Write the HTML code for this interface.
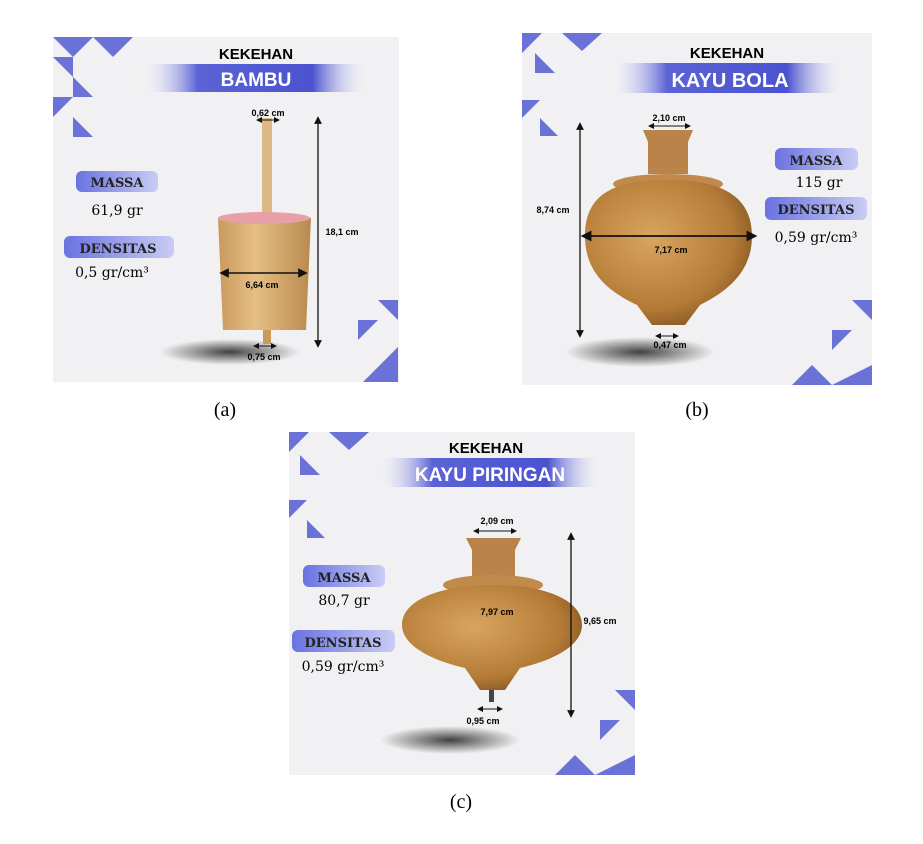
<!DOCTYPE html>
<html><head><meta charset="utf-8"><style>
html,body{margin:0;padding:0;background:#fff;width:923px;height:844px;overflow:hidden}
svg{position:absolute;left:0;top:0}
.t{font-family:"Liberation Sans",sans-serif;font-weight:bold}
.s{font-family:"DejaVu Serif","Liberation Serif",serif}
.cap{font-family:"Liberation Serif",serif;font-size:20px}
</style></head><body>
<svg width="923" height="844" viewBox="0 0 923 844">
<defs>
<linearGradient id="bn" x1="0" x2="1"><stop offset="0" stop-color="#fff" stop-opacity="0"/><stop offset=".25" stop-color="#5b63d6"/><stop offset=".75" stop-color="#4a52cf"/><stop offset="1" stop-color="#fff" stop-opacity="0"/></linearGradient>
<linearGradient id="pl" x1="0" x2="1"><stop offset="0" stop-color="#6a72e0"/><stop offset="1" stop-color="#c9ccf4"/></linearGradient>
<radialGradient id="wd" cx=".4" cy=".4" r=".7"><stop offset="0" stop-color="#d9a55e"/><stop offset=".7" stop-color="#b37a36"/><stop offset="1" stop-color="#7a4d1d"/></radialGradient>
<linearGradient id="bm" x1="0" x2="1"><stop offset="0" stop-color="#c99a5a"/><stop offset=".4" stop-color="#e6bf86"/><stop offset="1" stop-color="#b98a4e"/></linearGradient>
<radialGradient id="sh"><stop offset="0" stop-color="#222" stop-opacity=".85"/><stop offset="1" stop-color="#222" stop-opacity="0"/></radialGradient>
<marker id="a" markerWidth="6" markerHeight="6" refX="3" refY="3" orient="auto-start-reverse"><path d="M0,0L6,3L0,6z" fill="#111"/></marker>
</defs>

<!-- Panel A -->
<rect x="53" y="37" width="346" height="345" fill="#f1f1f3"/>
<path d="M53 37h40l-20 20zM93 37h40l-20 20zM53 57l20 20v-20zM73 77l20 20h-20zM53 97h20l-20 20zM73 117l20 20h-20z" fill="#4a52cf" opacity=".8"/>
<path d="M363 382h35v-35zM378 300l20 20v-20zM358 320h20l-20 20z" fill="#4a52cf" opacity=".8"/>
<text x="256" y="59" class="t" font-size="15" text-anchor="middle">KEKEHAN</text>
<rect x="140" y="64" width="230" height="28" fill="url(#bn)"/>
<text x="256" y="86" class="t" font-size="19" fill="#fff" text-anchor="middle">BAMBU</text>
<rect x="76" y="171" width="82" height="21" rx="6" fill="url(#pl)"/>
<text x="117" y="187" class="s" font-size="13" font-weight="bold" fill="#222" text-anchor="middle">MASSA</text>
<text x="117" y="215" class="s" font-size="14" text-anchor="middle">61,9 gr</text>
<rect x="64" y="236" width="110" height="22" rx="6" fill="url(#pl)"/>
<text x="118" y="253" class="s" font-size="13" font-weight="bold" fill="#222" text-anchor="middle">DENSITAS</text>
<text x="112" y="277" class="s" font-size="14" text-anchor="middle">0,5 gr/cm³</text>
<ellipse cx="230" cy="352" rx="70" ry="13" fill="url(#sh)"/>
<rect x="262" y="118" width="10" height="100" fill="#dcb887"/>
<rect x="263" y="330" width="8" height="14" fill="#c99a5a"/>
<path d="M218 218 L311 218 L306 330 L223 330 Z" fill="url(#bm)"/>
<ellipse cx="264" cy="218" rx="46" ry="6" fill="#e8a0a8"/>
<line x1="318" y1="120" x2="318" y2="344" stroke="#111" stroke-width="1.3" marker-start="url(#a)" marker-end="url(#a)"/>
<line x1="224" y1="273" x2="303" y2="273" stroke="#111" stroke-width="1.6" marker-start="url(#a)" marker-end="url(#a)"/>
<line x1="259" y1="120" x2="277" y2="120" stroke="#111" stroke-width="1" marker-start="url(#a)" marker-end="url(#a)"/>
<line x1="256" y1="346" x2="274" y2="346" stroke="#111" stroke-width="1" marker-start="url(#a)" marker-end="url(#a)"/>
<text x="268" y="116" class="t" font-size="9" text-anchor="middle">0,62 cm</text>
<text x="262" y="288" class="t" font-size="9" text-anchor="middle">6,64 cm</text>
<text x="342" y="235" class="t" font-size="9" text-anchor="middle">18,1 cm</text>
<text x="264" y="360" class="t" font-size="9" text-anchor="middle">0,75 cm</text>

<!-- Panel B -->
<rect x="522" y="33" width="350" height="352" fill="#f1f1f3"/>
<path d="M522 33h20l-20 20zM562 33h40l-20 18zM535 53l20 20h-20zM522 100h18l-18 18zM540 118l18 18h-18z" fill="#4a52cf" opacity=".8"/>
<path d="M792 385h40l-20-20zM832 385h40v-20zM852 300l20 20v-20zM832 330h20l-20 20z" fill="#4a52cf" opacity=".8"/>
<text x="727" y="58" class="t" font-size="15" text-anchor="middle">KEKEHAN</text>
<rect x="607" y="63" width="240" height="30" fill="url(#bn)"/>
<text x="730" y="87" class="t" font-size="20" fill="#fff" text-anchor="middle">KAYU BOLA</text>
<rect x="775" y="148" width="83" height="22" rx="6" fill="url(#pl)"/>
<text x="816" y="165" class="s" font-size="13" font-weight="bold" fill="#222" text-anchor="middle">MASSA</text>
<text x="819" y="187" class="s" font-size="14" text-anchor="middle">115 gr</text>
<rect x="765" y="197" width="102" height="23" rx="6" fill="url(#pl)"/>
<text x="816" y="214" class="s" font-size="13" font-weight="bold" fill="#222" text-anchor="middle">DENSITAS</text>
<text x="816" y="242" class="s" font-size="14" text-anchor="middle">0,59 gr/cm³</text>
<ellipse cx="640" cy="352" rx="75" ry="15" fill="url(#sh)"/>
<path d="M643 130h50l-5 12v32h-40v-32z" fill="#b9834a"/>
<ellipse cx="668" cy="184" rx="55" ry="10" fill="#c08a4c"/>
<path d="M585 236 C585 190 620 180 668 180 C720 180 752 195 752 236 C752 270 730 290 700 305 L685 325 L652 325 L637 305 C605 290 585 270 585 236Z" fill="url(#wd)"/>
<line x1="580" y1="126" x2="580" y2="334" stroke="#111" stroke-width="1.3" marker-start="url(#a)" marker-end="url(#a)"/>
<line x1="586" y1="236" x2="752" y2="236" stroke="#111" stroke-width="1.8" marker-start="url(#a)" marker-end="url(#a)"/>
<line x1="651" y1="126" x2="688" y2="126" stroke="#111" stroke-width="1" marker-start="url(#a)" marker-end="url(#a)"/>
<line x1="658" y1="336" x2="676" y2="336" stroke="#111" stroke-width="1" marker-start="url(#a)" marker-end="url(#a)"/>
<text x="669" y="121" class="t" font-size="9" text-anchor="middle">2,10 cm</text>
<text x="553" y="213" class="t" font-size="9" text-anchor="middle">8,74 cm</text>
<text x="671" y="253" class="t" font-size="9" text-anchor="middle">7,17 cm</text>
<text x="670" y="348" class="t" font-size="9" text-anchor="middle">0,47 cm</text>

<!-- Panel C -->
<rect x="289" y="432" width="346" height="343" fill="#f1f1f3"/>
<path d="M289 432h20l-20 20zM329 432h40l-20 18zM300 455l20 20h-20zM289 500h18l-18 18zM307 520l18 18h-18z" fill="#4a52cf" opacity=".8"/>
<path d="M555 775h40l-20-20zM595 775h40v-20zM615 690l20 20v-20zM600 720h20l-20 20z" fill="#4a52cf" opacity=".8"/>
<text x="486" y="453" class="t" font-size="15" text-anchor="middle">KEKEHAN</text>
<rect x="375" y="458" width="230" height="29" fill="url(#bn)"/>
<text x="490" y="481" class="t" font-size="19" fill="#fff" text-anchor="middle">KAYU PIRINGAN</text>
<rect x="303" y="565" width="82" height="22" rx="6" fill="url(#pl)"/>
<text x="344" y="582" class="s" font-size="13" font-weight="bold" fill="#222" text-anchor="middle">MASSA</text>
<text x="344" y="605" class="s" font-size="14" text-anchor="middle">80,7 gr</text>
<rect x="292" y="630" width="103" height="22" rx="6" fill="url(#pl)"/>
<text x="343" y="647" class="s" font-size="13" font-weight="bold" fill="#222" text-anchor="middle">DENSITAS</text>
<text x="343" y="671" class="s" font-size="14" text-anchor="middle">0,59 gr/cm³</text>
<ellipse cx="450" cy="740" rx="70" ry="14" fill="url(#sh)"/>
<path d="M466 538h55l-6 12v28h-43v-28z" fill="#b9834a"/>
<ellipse cx="493" cy="585" rx="50" ry="10" fill="#c08a4c"/>
<path d="M402 625 C402 600 440 585 493 585 C545 585 582 600 582 625 C582 645 555 660 520 668 L505 690 L480 690 L465 668 C430 660 402 645 402 625Z" fill="url(#wd)"/>
<rect x="489" y="690" width="5" height="12" fill="#444"/>
<line x1="571" y1="536" x2="571" y2="714" stroke="#111" stroke-width="1.3" marker-start="url(#a)" marker-end="url(#a)"/>
<line x1="476" y1="531" x2="514" y2="531" stroke="#111" stroke-width="1" marker-start="url(#a)" marker-end="url(#a)"/>
<line x1="480" y1="709" x2="500" y2="709" stroke="#111" stroke-width="1" marker-start="url(#a)" marker-end="url(#a)"/>
<text x="497" y="524" class="t" font-size="9" text-anchor="middle">2,09 cm</text>
<text x="497" y="615" class="t" font-size="9" text-anchor="middle">7,97 cm</text>
<text x="600" y="624" class="t" font-size="9" text-anchor="middle">9,65 cm</text>
<text x="483" y="724" class="t" font-size="9" text-anchor="middle">0,95 cm</text>

<text x="225" y="416" class="cap" text-anchor="middle">(a)</text>
<text x="697" y="416" class="cap" text-anchor="middle">(b)</text>
<text x="461" y="808" class="cap" text-anchor="middle">(c)</text>
</svg>
</body></html>
